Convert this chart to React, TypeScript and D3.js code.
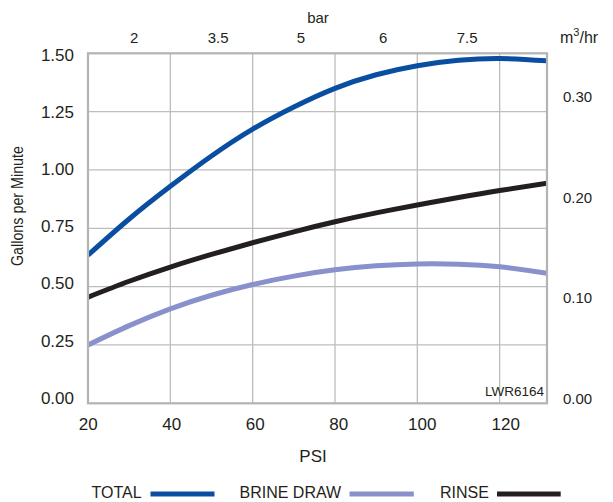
import React from "react";
import * as d3 from "d3";

const psi = [20, 30, 40, 50, 60, 70, 80, 90, 100, 110, 120, 131.5];
const totalGpm = [0.635, 0.79, 0.93, 1.06, 1.175, 1.27, 1.35, 1.408, 1.447, 1.47, 1.478, 1.468];
const brineGpm = [0.25, 0.333, 0.405, 0.463, 0.509, 0.545, 0.572, 0.589, 0.597, 0.596, 0.585, 0.557];
const rinseGpm = [0.455, 0.523, 0.584, 0.638, 0.688, 0.735, 0.778, 0.816, 0.85, 0.882, 0.912, 0.943];

const psiTicks = [20, 40, 60, 80, 100, 120];
const gpmTicks = [0, 0.25, 0.5, 0.75, 1.0, 1.25, 1.5];
const m3Ticks = [0, 0.1, 0.2, 0.3];
const barLabels = ["2", "3.5", "5", "6", "7.5"];
const barPsiPos = [31.2, 51.6, 71.7, 91.7, 112.1];

const series = [
  { name: "TOTAL", values: totalGpm, color: "#0a4ea2" },
  { name: "BRINE DRAW", values: brineGpm, color: "#8891cb" },
  { name: "RINSE", values: rinseGpm, color: "#231f20" },
];

const FONT = "'Liberation Sans', Arial, Helvetica, sans-serif";
const TEXT = "#231f20";

export default function App() {
  const x = d3.scaleLinear().domain([20, 131.5]).range([88, 547]);
  const y = d3.scaleLinear().domain([0, 1.5]).range([403.3, 53.3]);
  const xLab = d3.scaleLinear().domain([20, 120]).range([88.3, 505.7]);
  const yLab = d3.scaleLinear().domain([0, 1.5]).range([398.3, 55]);
  const yRightLab = d3.scaleLinear().domain([0, 0.3]).range([398.3, 96.7]);

  const line = d3
    .line<number>()
    .x((_, i) => x(psi[i]))
    .y((v) => y(v))
    .curve(d3.curveNatural);

  const legendItems = [
    { name: "TOTAL", tx: 91.5, lx1: 150.5, lx2: 214.5, color: series[0].color },
    { name: "BRINE DRAW", tx: 239.5, lx1: 349.5, lx2: 413.8, color: series[1].color },
    { name: "RINSE", tx: 440, lx1: 497, lx2: 560.7, color: series[2].color },
  ];

  return (
    <svg
      width={613}
      height={502}
      style={{ position: "absolute", left: 0, top: 0, background: "#fff" }}
      fontFamily={FONT}
    >
      <defs>
        <clipPath id="plotclip">
          <rect x={x(20)} y={y(1.5)} width={x(131.5) - x(20)} height={y(0) - y(1.5)} />
        </clipPath>
      </defs>
      {psiTicks.slice(1).map((t) => (
        <line key={"vx" + t} x1={x(t)} x2={x(t)} y1={y(0)} y2={y(1.5)} stroke="#bdbdbd" strokeWidth={1.3} />
      ))}
      {gpmTicks.slice(1, -1).map((t) => (
        <line key={"hy" + t} x1={x(20)} x2={x(131.5)} y1={y(t)} y2={y(t)} stroke="#bdbdbd" strokeWidth={1.3} />
      ))}
      <g clipPath="url(#plotclip)">
        {series.map((s) => (
          <path key={s.name} d={line(s.values) || ""} fill="none" stroke={s.color} strokeWidth={5} />
        ))}
      </g>
      <rect
        x={x(20)}
        y={y(1.5)}
        width={x(131.5) - x(20)}
        height={y(0) - y(1.5)}
        fill="none"
        stroke="#b3b3b3"
        strokeWidth={2.2}
      />
      {gpmTicks.map((t) => (
        <text key={"yl" + t} x={74} y={yLab(t)} textAnchor="end" dominantBaseline="central" fontSize={17} fill={TEXT}>
          {t.toFixed(2)}
        </text>
      ))}
      {m3Ticks.map((t) => (
        <text key={"yr" + t} x={563} y={yRightLab(t)} textAnchor="start" dominantBaseline="central" fontSize={15} fill={TEXT}>
          {t.toFixed(2)}
        </text>
      ))}
      <text x={560} y={43} fontSize={16} fill={TEXT}>
        m
        <tspan dy={-7} fontSize={11}>3</tspan>
        <tspan dy={7}>/hr</tspan>
      </text>
      {psiTicks.map((t) => (
        <text key={"xb" + t} x={xLab(t)} y={424} textAnchor="middle" dominantBaseline="central" fontSize={17} fill={TEXT}>
          {t}
        </text>
      ))}
      <text x={313} y={456} textAnchor="middle" dominantBaseline="central" fontSize={17} fill={TEXT}>
        PSI
      </text>
      {barLabels.map((b, i) => (
        <text key={"bt" + b} x={x(barPsiPos[i])} y={37} textAnchor="middle" dominantBaseline="central" fontSize={15} fill={TEXT}>
          {b}
        </text>
      ))}
      <text x={318} y={17} textAnchor="middle" dominantBaseline="central" fontSize={15} fill={TEXT}>
        bar
      </text>
      <text
        transform="translate(17,206) rotate(-90)"
        textAnchor="middle"
        dominantBaseline="central"
        fontSize={16.5}
        fill={TEXT}
        textLength={120}
        lengthAdjust="spacingAndGlyphs"
      >
        Gallons per  Minute
      </text>
      <text x={544} y={396} textAnchor="end" fontSize={13.5} fill={TEXT}>
        LWR6164
      </text>
      {legendItems.map((l) => (
        <g key={l.name}>
          <text x={l.tx} y={492} dominantBaseline="central" fontSize={16} fill={TEXT}>
            {l.name}
          </text>
          <line x1={l.lx1} x2={l.lx2} y1={494} y2={494} stroke={l.color} strokeWidth={5} />
        </g>
      ))}
    </svg>
  );
}
